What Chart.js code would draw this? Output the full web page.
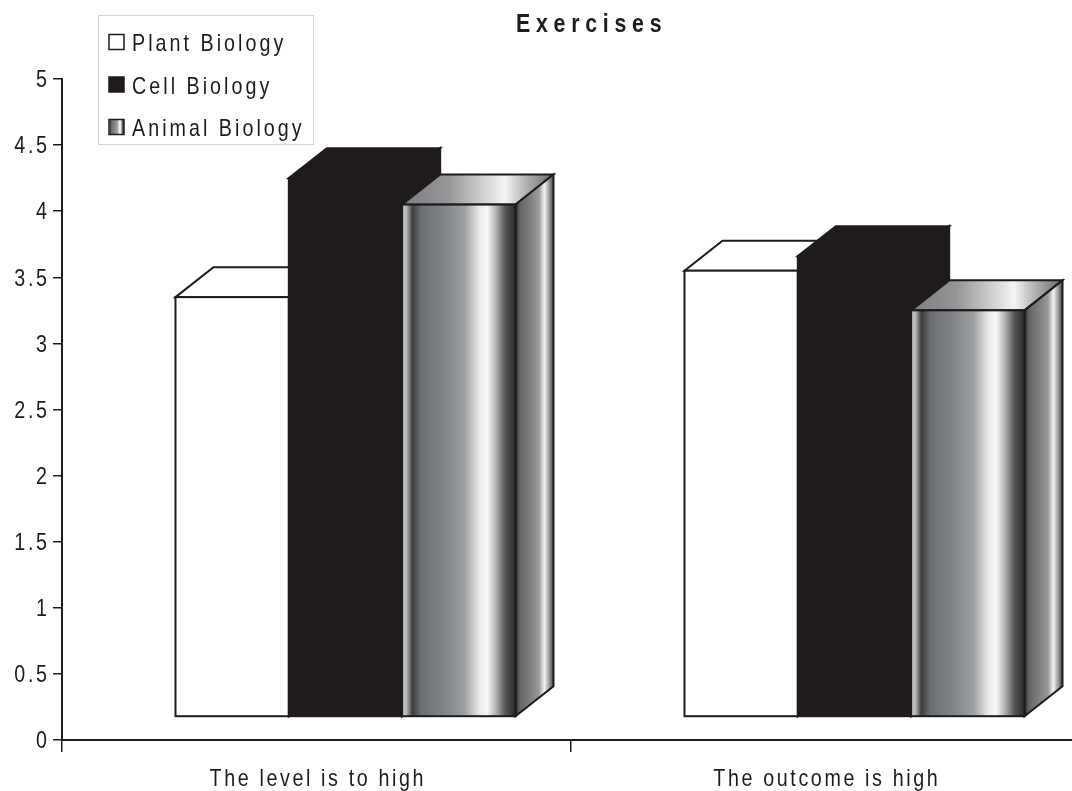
<!DOCTYPE html>
<html>
<head>
<meta charset="utf-8">
<title>Exercises</title>
<script src="https://cdn.jsdelivr.net/npm/chart.js@4.4.1/dist/chart.umd.min.js"></script>
<style>
  html, body { margin: 0; padding: 0; background: #ffffff; overflow: hidden; }
  #wrap { width: 1082px; height: 791px; }
</style>
</head>
<body>
<div id="wrap"><canvas id="chart" width="1082" height="791"></canvas></div>
<script>
// ---- data ----
const chartTitle = 'Exercises';
const categories = ['The level is to high', 'The outcome is high'];
const seriesNames = ['Plant Biology', 'Cell Biology', 'Animal Biology'];
const plantBiology = [3.35, 3.55];
const cellBiology = [4.25, 3.66];
const animalBiology = [4.05, 3.25];
const yMin = 0, yMax = 5, yStep = 0.5;
// the 3D floor sits slightly above the value axis origin
const floorLevel = 0.18;

// ---- look ----
const FONT = '"Liberation Sans", Arial, Helvetica, sans-serif';
const INK = '#1c1c1c';
const NARROW = 0.82;           // horizontal squeeze for the condensed lettering
const depth = { dx: 38, dy: 30, shift: 29 };

// condensed, letter-spaced text
function drawText(ctx, text, x, y, opts) {
  const { font, spacing = 0, align = 'left', squeeze = NARROW } = opts;
  ctx.save();
  ctx.font = font;
  ctx.letterSpacing = spacing + 'px';
  ctx.textAlign = 'left';
  ctx.textBaseline = 'alphabetic';
  ctx.fillStyle = INK;
  const w = (ctx.measureText(text).width - spacing) * squeeze;
  let left = x;
  if (align === 'center') left = x - w / 2;
  else if (align === 'right') left = x - w;
  ctx.translate(left, y);
  ctx.scale(squeeze, 1);
  ctx.fillText(text, 0, 0);
  ctx.restore();
}

function metalFront(ctx, L, R) {
  const g = ctx.createLinearGradient(L, 0, R, 0);
  g.addColorStop(0.00, '#cfcfcf');
  g.addColorStop(0.04, '#b4b4b4');
  g.addColorStop(0.09, '#3c3c3e');
  g.addColorStop(0.17, '#6c7074');
  g.addColorStop(0.36, '#7f8387');
  g.addColorStop(0.55, '#9c9ea0');
  g.addColorStop(0.68, '#e9e9e9');
  g.addColorStop(0.75, '#f8f8f8');
  g.addColorStop(0.83, '#b0b0b0');
  g.addColorStop(0.91, '#555557');
  g.addColorStop(1.00, '#2a2a2a');
  return g;
}
function metalSide(ctx, L, R) {
  const g = ctx.createLinearGradient(L, 0, R, 0);
  g.addColorStop(0.00, '#2e2e2e');
  g.addColorStop(0.12, '#666668');
  g.addColorStop(0.40, '#7e8082');
  g.addColorStop(0.62, '#9a9a9a');
  g.addColorStop(0.76, '#f2f2f2');
  g.addColorStop(0.87, '#a8a8a8');
  g.addColorStop(1.00, '#444444');
  return g;
}
function metalTop(ctx, L, R) {
  const g = ctx.createLinearGradient(L, 0, R, 0);
  g.addColorStop(0.00, '#7e7e80');
  g.addColorStop(0.30, '#959597');
  g.addColorStop(0.55, '#d4d4d4');
  g.addColorStop(0.68, '#f4f4f4');
  g.addColorStop(0.82, '#b0b0b0');
  g.addColorStop(1.00, '#6a6a6a');
  return g;
}

const faceStyles = [
  () => ({ front: '#ffffff', top: '#ffffff', side: '#ffffff', edge: INK }),
  () => ({ front: '#1f1b1b', top: '#1f1b1b', side: '#1f1b1b', edge: '#1f1b1b' }),
  (ctx, L, R, dx) => ({
    front: metalFront(ctx, L, R),
    top: metalTop(ctx, L, R + dx),
    side: metalSide(ctx, R, R + dx),
    edge: INK
  })
];

function drawBar(ctx, p, d) {
  const L = p.x - p.width / 2, R = p.x + p.width / 2;
  const T = Math.min(p.y, p.base), B = Math.max(p.y, p.base);
  const { dx, dy } = depth;
  const s = faceStyles[d](ctx, L, R, dx);
  ctx.lineWidth = 2;
  ctx.strokeStyle = s.edge;
  ctx.lineJoin = 'miter';
  // top face
  ctx.beginPath();
  ctx.moveTo(L, T); ctx.lineTo(L + dx, T - dy); ctx.lineTo(R + dx, T - dy); ctx.lineTo(R, T);
  ctx.closePath();
  ctx.fillStyle = s.top; ctx.fill(); ctx.stroke();
  // side face
  ctx.beginPath();
  ctx.moveTo(R, T); ctx.lineTo(R + dx, T - dy); ctx.lineTo(R + dx, B - dy); ctx.lineTo(R, B);
  ctx.closePath();
  ctx.fillStyle = s.side; ctx.fill(); ctx.stroke();
  // front face
  ctx.fillStyle = s.front;
  ctx.fillRect(L, T, R - L, B - T);
  ctx.strokeRect(L, T, R - L, B - T);
}

// 3D column renderer: draws every bar from its element geometry, left to right
const bars3d = {
  id: 'bars3d',
  afterDatasetsDraw(chart) {
    const ctx = chart.ctx;
    const metas = chart.data.datasets.map((_, i) => chart.getDatasetMeta(i));
    ctx.save();
    ctx.translate(depth.shift, 0);
    for (let i = 0; i < chart.data.labels.length; i++) {
      metas.forEach((meta, d) => {
        const el = meta.data[i];
        if (!el) return;
        drawBar(ctx, el.getProps(['x', 'y', 'base', 'width'], true), d);
      });
    }
    ctx.restore();
  }
};

// axis labels in condensed lettering, placed from the scales' own ticks
const axisLabels = {
  id: 'axisLabels',
  afterDraw(chart) {
    const ctx = chart.ctx;
    const xs = chart.scales.x, ys = chart.scales.y;
    ys.ticks.forEach((t, i) => {
      const py = ys.getPixelForTick(i);
      drawText(ctx, String(t.value), ys.right - 15, py + 8.2,
        { font: '24px ' + FONT, spacing: 3.3, align: 'right' });
    });
    xs.ticks.forEach((t, i) => {
      const px = xs.getPixelForTick(i);
      drawText(ctx, chart.data.labels[i], px, xs.top + 46,
        { font: '24px ' + FONT, spacing: 3.2, align: 'center' });
    });
  }
};

// title and boxed legend
const decor = {
  id: 'decor',
  afterDraw(chart) {
    const ctx = chart.ctx;
    drawText(ctx, chartTitle, 516, 32, { font: 'bold 26px ' + FONT, spacing: 7 });

    ctx.save();
    ctx.fillStyle = '#ffffff';
    ctx.fillRect(98, 15, 215, 129);
    ctx.strokeStyle = '#d4d4d4';
    ctx.lineWidth = 1;
    ctx.strokeRect(98.5, 15.5, 215, 129);
    chart.data.datasets.forEach((ds, d) => {
      const cy = 42 + d * 42.5;
      const x = 109, y = cy - 7.5, w = 15;
      const s = faceStyles[d](ctx, x, x + w, 0);
      ctx.fillStyle = s.front;
      ctx.fillRect(x, y, w, w);
      ctx.strokeStyle = INK;
      ctx.lineWidth = 1.5;
      ctx.strokeRect(x, y, w, w);
      drawText(ctx, ds.label, 132, cy + 9, { font: '24px ' + FONT, spacing: 3.7 });
    });
    ctx.restore();
  }
};

const seriesValues = [plantBiology, cellBiology, animalBiology];

new Chart(document.getElementById('chart'), {
  type: 'bar',
  data: {
    labels: categories,
    datasets: seriesNames.map((name, i) => ({
      label: name,
      data: seriesValues[i],
      base: floorLevel,
      backgroundColor: 'rgba(0,0,0,0)',
      borderWidth: 0,
      categoryPercentage: 0.668,
      barPercentage: 1.0
    }))
  },
  options: {
    responsive: false,
    maintainAspectRatio: false,
    devicePixelRatio: 1,
    animation: false,
    layout: { padding: { top: 79, left: 0, right: 2, bottom: 0 } },
    plugins: {
      legend: { display: false },
      title: { display: false },
      tooltip: { enabled: false }
    },
    scales: {
      x: {
        offset: true,
        grid: {
          offset: true,
          drawOnChartArea: false,
          drawTicks: true,
          tickLength: 12,
          color: INK,
          lineWidth: 1.5
        },
        border: { display: true, color: INK, width: 2 },
        ticks: { display: false },
        afterFit(scale) { scale.height = 51; }
      },
      y: {
        min: yMin,
        max: yMax,
        grid: {
          drawOnChartArea: false,
          drawTicks: true,
          tickLength: 9,
          color: INK,
          lineWidth: 1.5
        },
        border: { display: true, color: INK, width: 2 },
        ticks: { stepSize: yStep, display: false },
        afterFit(scale) { scale.width = 62; }
      }
    }
  },
  plugins: [bars3d, axisLabels, decor]
});
</script>
</body>
</html>
